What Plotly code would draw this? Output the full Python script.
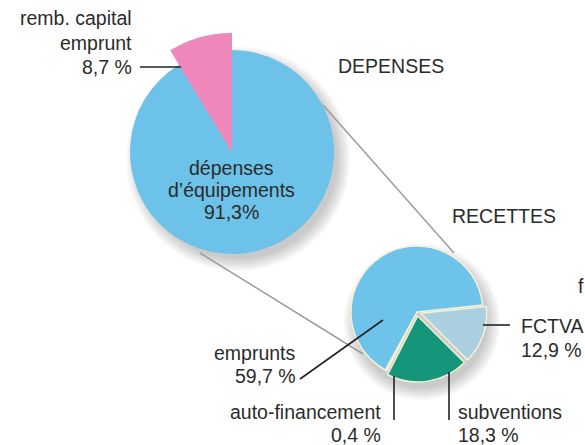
import plotly.graph_objects as go

W, H = 585, 445

# ---- data ----
dep_labels = ["dépenses d’équipements", "remb. capital emprunt"]
dep_values = [91.3, 8.7]
dep_colors = ["#6cc2e8", "#ef88ba"]

rec_labels = ["FCTVA", "subventions", "auto-financement", "emprunts"]
rec_values = [12.9, 18.3, 0.4, 59.7]
rec_colors = ["#a9cfe1", "#15957a", "#eef0c8", "#6dc3e9"]
rec_pull = [0.06, 0.06, 0.0, 0.0]

titles = ["DEPENSES", "RECETTES"]


def pct(v, space=True):
    s = f"{v:.1f}".replace(".", ",")
    return s + (" %" if space else "%")


def px(x):
    return x / W


def py(y):
    return 1 - y / H


def dom(cx, cy, half):
    return dict(x=[px(cx - half), px(cx + half)], y=[py(cy + half), py(cy - half)])


fig = go.Figure()

# big pie (depenses)
fig.add_trace(go.Pie(
    values=dep_values, labels=dep_labels, sort=False, direction="clockwise",
    rotation=0, marker=dict(colors=dep_colors, line=dict(width=0)),
    textinfo="none", hoverinfo="skip", domain=dom(232, 152, 102), showlegend=False,
))
# pink slice drawn with a larger radius
fig.add_trace(go.Pie(
    values=dep_values, labels=dep_labels, sort=False, direction="clockwise",
    rotation=0, marker=dict(colors=["rgba(0,0,0,0)", dep_colors[1]], line=dict(width=0)),
    textinfo="none", hoverinfo="skip", domain=dom(232, 152, 119), showlegend=False,
))
# small pie (recettes)
fig.add_trace(go.Pie(
    values=rec_values, labels=rec_labels, sort=False, direction="clockwise",
    rotation=84, pull=rec_pull,
    marker=dict(colors=rec_colors, line=dict(color="#f3f1d6", width=1.5)),
    textinfo="none", hoverinfo="skip", domain=dom(417, 312, 70), showlegend=False,
))

font = dict(family="Liberation Sans, Arial, sans-serif", size=19.5, color="#2b2b2b")

ann = []


def add_text(lines, x, y0, step, xanchor):
    for i, t in enumerate(lines):
        ann.append(dict(text=t, x=px(x), y=py(y0 + i * step), xref="paper", yref="paper",
                        xanchor=xanchor, yanchor="middle",
                        showarrow=False, font=font))


add_text(["remb. capital", "emprunt", pct(dep_values[1])], 134, 18, 24.5, "right")
add_text(["dépenses", "d’équipements", pct(dep_values[0], space=False)], 231, 168, 22, "center")
add_text([titles[0]], 336, 66, 0, "left")
add_text([titles[1]], 450, 216, 0, "left")
add_text([rec_labels[0], pct(rec_values[0])], 519, 326, 24, "left")
add_text([rec_labels[3], pct(rec_values[3])], 298, 353, 23, "right")
add_text([rec_labels[2], pct(rec_values[2])], 383, 412, 23, "right")
add_text([rec_labels[1], pct(rec_values[1])], 456, 412, 23, "left")
add_text(["f"], 576, 286, 0, "left")


def line(x0, y0, x1, y1, color="#222222", width=1.6):
    return dict(type="line", xref="paper", yref="paper",
                x0=px(x0), y0=py(y0), x1=px(x1), y1=py(y1),
                line=dict(color=color, width=width))


def shadow(cx, cy, r, dx, dy):
    out = []
    for k in range(7):
        rr = r + 2 * k
        out.append(dict(type="circle", xref="paper", yref="paper", layer="below",
                        x0=px(cx + dx - rr), x1=px(cx + dx + rr),
                        y0=py(cy + dy + rr), y1=py(cy + dy - rr),
                        fillcolor="rgba(0,0,0,0.03)", line=dict(width=0)))
    return out


shapes = shadow(232, 152, 100, 6, 7) + shadow(419, 314, 66, 3, 8) + [
    # connectors between pies
    line(200, 253, 363, 354, color="#9c9c9c", width=1.5),
    line(323, 105, 454, 253, color="#9c9c9c", width=1.5),
    # leader lines
    line(140, 67, 181, 67),
    line(483, 325, 510, 325),
    line(300, 379, 383, 320),
    line(394, 376, 394, 420),
    line(449, 372, 449, 420),
]

fig.update_layout(
    width=W, height=H, margin=dict(l=0, r=0, t=0, b=0),
    paper_bgcolor="white", plot_bgcolor="white",
    annotations=ann, shapes=shapes, showlegend=False,
)

fig.write_html("out.html", config={"displayModeBar": False},
               post_script="document.body.style.margin='0';document.body.style.overflow='hidden';")
